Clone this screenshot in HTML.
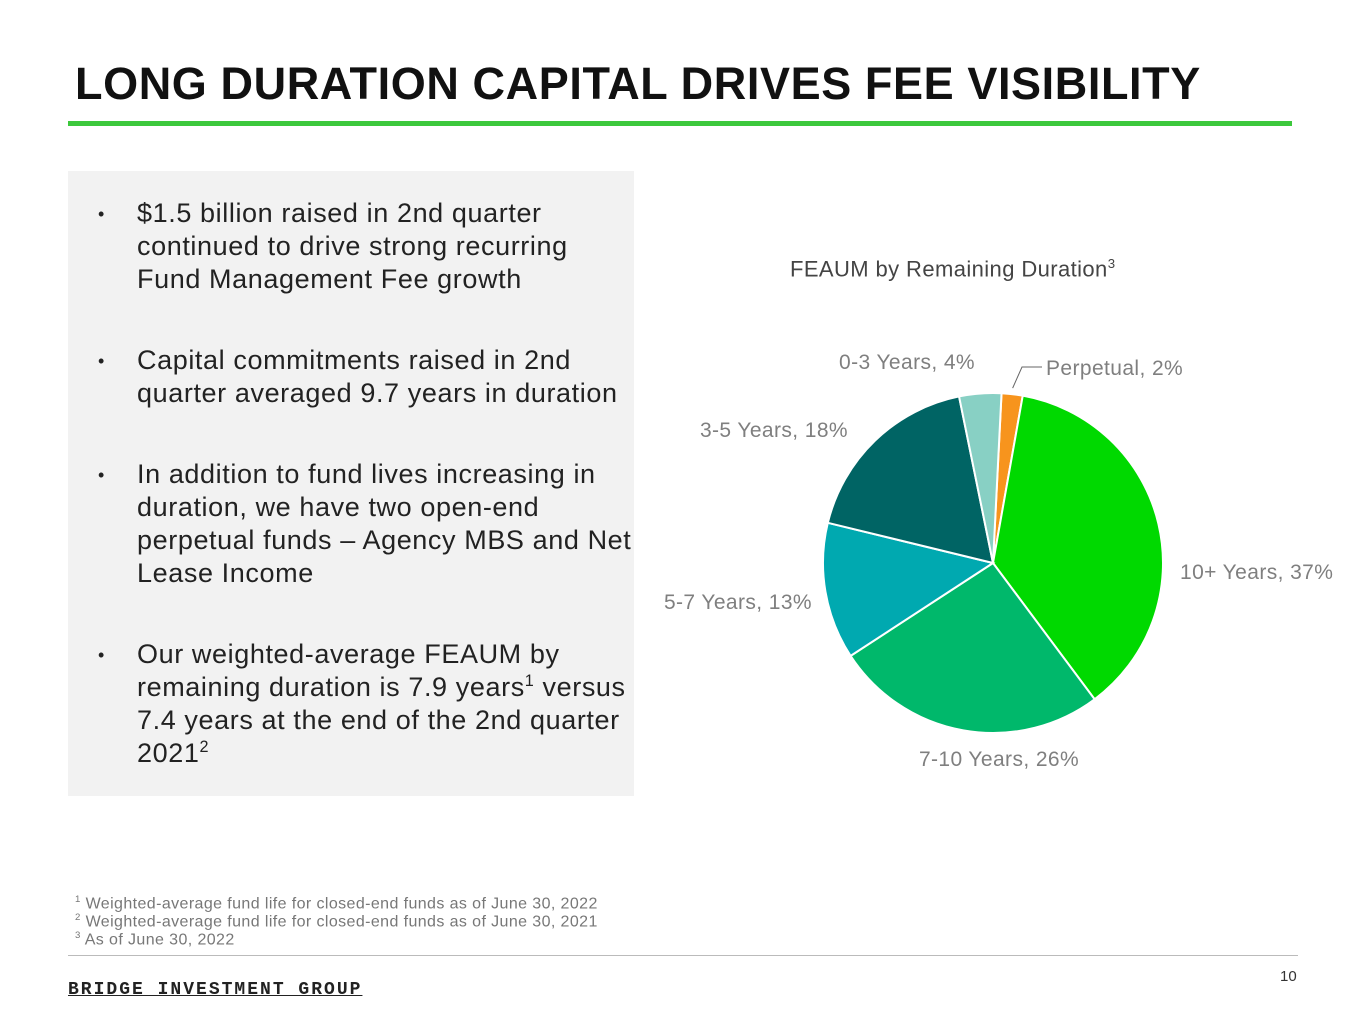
<!DOCTYPE html>
<html><head><meta charset="utf-8"><style>
body{margin:0;width:1365px;height:1024px;background:#fff;position:relative;overflow:hidden;font-family:"Liberation Sans",sans-serif}
.a{position:absolute;white-space:nowrap}
.ln{position:absolute;left:137px;font-size:27px;letter-spacing:0.6px;color:#222;white-space:nowrap}
.bl{position:absolute;left:98px;font-size:18px;color:#222}
.fn{position:absolute;left:75px;font-size:16px;letter-spacing:0.4px;color:#777;white-space:nowrap}
sup{font-size:60%}
</style></head><body>
<div class="a" style="left:75px;top:58px;font-size:45px;letter-spacing:0.6px;font-weight:bold;color:#111">LONG DURATION CAPITAL DRIVES FEE VISIBILITY</div>
<div class="a" style="left:68px;top:121px;width:1224px;height:5px;background:#3cc83c"></div>
<div class="a" style="left:68px;top:171px;width:566px;height:625px;background:#f2f2f2"></div>
<div>
<div class="bl" style="top:204px">•</div>
<div class="ln" style="top:198px">$1.5 billion raised in 2nd quarter</div>
<div class="ln" style="top:231px">continued to drive strong recurring</div>
<div class="ln" style="top:264px">Fund Management Fee growth</div>
<div class="bl" style="top:351px">•</div>
<div class="ln" style="top:345px">Capital commitments raised in 2nd</div>
<div class="ln" style="top:378px">quarter averaged 9.7 years in duration</div>
<div class="bl" style="top:465px">•</div>
<div class="ln" style="top:459px">In addition to fund lives increasing in</div>
<div class="ln" style="top:492px">duration, we have two open-end</div>
<div class="ln" style="top:525px">perpetual funds – Agency MBS and Net</div>
<div class="ln" style="top:558px">Lease Income</div>
<div class="bl" style="top:645px">•</div>
<div class="ln" style="top:639px">Our weighted-average FEAUM by</div>
<div class="ln" style="top:672px">remaining duration is 7.9 years<sup>1</sup> versus</div>
<div class="ln" style="top:705px">7.4 years at the end of the 2nd quarter</div>
<div class="ln" style="top:738px">2021<sup>2</sup></div>
</div>
<div class="a" style="left:790px;top:256px;font-size:22px;letter-spacing:0.4px;color:#444">FEAUM by Remaining Duration<sup>3</sup></div>
<svg class="a" id="pie" style="left:0;top:0" width="1365" height="1024"></svg>
<div>
<div class="fn" style="top:894px"><sup>1</sup> Weighted-average fund life for closed-end funds as of June 30, 2022</div>
<div class="fn" style="top:912px"><sup>2</sup> Weighted-average fund life for closed-end funds as of June 30, 2021</div>
<div class="fn" style="top:930px"><sup>3</sup> As of June 30, 2022</div>
</div>
<div class="a" style="left:68px;top:955px;width:1230px;height:1px;background:#bbb"></div>
<div class="a" style="left:68px;top:980px;font-size:18px;font-weight:bold;letter-spacing:2px;color:#222;font-family:'Liberation Mono',monospace;text-decoration:underline">BRIDGE INVESTMENT GROUP</div>
<div class="a" style="left:1280px;top:968px;font-size:15px;color:#333">10</div>
<script>
const categories=["Perpetual","10+ Years","7-10 Years","5-7 Years","3-5 Years","0-3 Years"];
const values=[2,37,26,13,18,4];
const colors=["#f7941d","#00d900","#00b86b","#00a9b0","#006464","#88d0c4"];
const labelPos=[[1046,367,"start"],[1180,571,"start"],[999,758,"middle"],[812,601,"end"],[848,429,"end"],[975,361,"end"]];
const svg=document.getElementById('pie');
const NS="http://www.w3.org/2000/svg";
const cx=993,cy=563,r=170,rot=0.008;
const total=values.reduce((a,b)=>a+b,0);
function pt(f,rr){const a=(f+rot)*2*Math.PI;return [cx+rr*Math.sin(a),cy-rr*Math.cos(a)];}
let acc=0;
values.forEach((v,i)=>{
 const f0=acc/total,f1=(acc+v)/total;acc+=v;
 const p0=pt(f0,r),p1=pt(f1,r);
 const p=document.createElementNS(NS,'path');
 p.setAttribute('d',`M${cx},${cy}L${p0[0]},${p0[1]}A${r},${r} 0 ${f1-f0>0.5?1:0} 1 ${p1[0]},${p1[1]}Z`);
 p.setAttribute('fill',colors[i]);p.setAttribute('stroke','#fff');p.setAttribute('stroke-width','2');
 
 
 svg.appendChild(p);
 const t=document.createElementNS(NS,'text');
 const lp=labelPos[i];
 t.setAttribute('x',lp[0]);t.setAttribute('y',lp[1]+8);t.setAttribute('text-anchor',lp[2]);
 t.setAttribute('font-size','21');t.setAttribute('letter-spacing','0.4');t.setAttribute('fill','#7f7f7f');t.setAttribute('font-family','Liberation Sans, sans-serif');
 t.textContent=categories[i]+', '+v+'%';
 
 
 svg.appendChild(t);
 if(i===0){const m=pt((f0+f1)/2,r+4);const l=document.createElementNS(NS,'path');
  l.setAttribute('d',`M${m[0]},${m[1]-2}L1022,367L1042,367`);l.setAttribute('stroke','#666');l.setAttribute('fill','none');
  
  
  svg.appendChild(l);}
});
</script>
</body></html>
